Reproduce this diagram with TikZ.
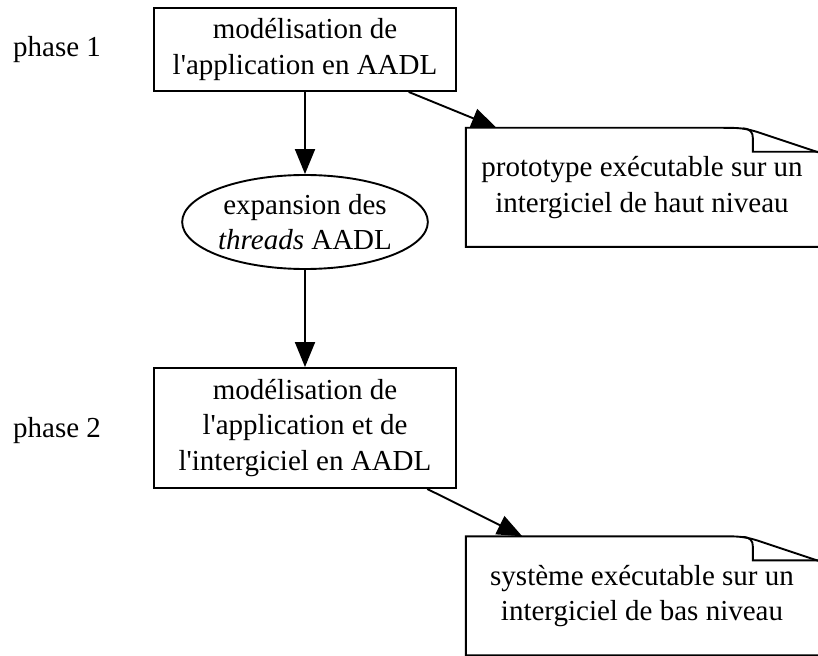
\documentclass[tikz,border=0pt]{standalone}
\usepackage{fontspec}
\setmainfont{Liberation Serif}
\usetikzlibrary{shapes.geometric,arrows.meta}
\begin{document}
\begin{tikzpicture}[x=1pt,y=-1pt,
  every node/.style={font=\fontsize{29}{35.5}\selectfont},
  box/.style={draw,line width=1.9pt,rectangle,minimum width=302pt,align=center,inner sep=0pt},
  oval/.style={draw,line width=1.9pt,ellipse,minimum width=240pt,minimum height=94pt,align=center,inner sep=0pt},
  notebox/.style={rectangle,minimum width=352pt,minimum height=119pt,align=center,inner sep=0pt},
  noteline/.style={line width=1.9pt,line join=miter},
  flow/.style={line width=1.9pt,-{Triangle[length=25pt,width=20pt]}},
  phase/.style={anchor=base west,inner sep=0pt}]
\useasboundingbox (0,0) rectangle (818,655);
\node[box,minimum height=83pt] (b1) at (305,49.5) {modélisation de\\l\textquotesingle application en AADL};
\node[oval] (e1) at (305,222) {expansion des\\\textit{threads} AADL};
\node[box,minimum height=120pt] (b2) at (305,428) {modélisation de\\l\textquotesingle application et de\\l\textquotesingle intergiciel en AADL};
\node[notebox] (n1) at (642,187.5) {prototype exécutable sur un\\intergiciel de haut niveau};
\node[notebox] (n2) at (642,596) {système exécutable sur un\\intergiciel de bas niveau};
\node[phase] (p1) at (13,57) {phase 1};
\node[phase] (p2) at (13,437) {phase 2};
\foreach \n in {n1,n2}{
  \begin{scope}[shift={(\n.north west)}]
    \draw[noteline] (362,119) -- (0,119) -- (0,0) -- (256,0)
      .. controls (272,0) and (279,0) .. (294,5) -- (362,27.7);
    \draw[noteline] (277,0.6) .. controls (285,1) and (287,5) .. (287,10)
      -- (287,24) -- (362,24);
  \end{scope}
}
\draw[flow] (b1) -- (e1);
\draw[flow] (e1) -- (b2);
\draw[flow] (b1) -- (n1);
\draw[flow] (b2) -- (n2);
\end{tikzpicture}
\end{document}
